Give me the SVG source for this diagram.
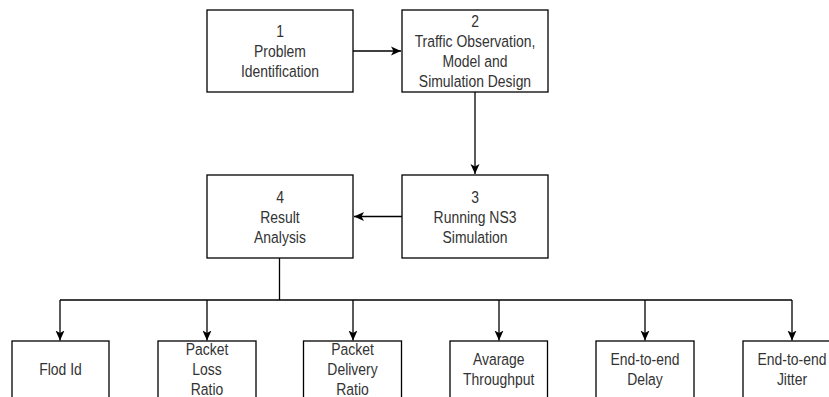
<svg xmlns="http://www.w3.org/2000/svg" width="829" height="397" viewBox="0 0 829 397">
<style>
.box{fill:#fff;stroke:#000;stroke-width:1.3}
.t{font-family:"Liberation Sans",Arial,sans-serif;font-size:17px;fill:#333;text-anchor:middle}
.c{fill:none;stroke:#000;stroke-width:1.3}
</style>
<defs>
<marker id="ah" viewBox="0 0 10 10" refX="10" refY="5" markerWidth="10" markerHeight="10" markerUnits="userSpaceOnUse" orient="auto">
<path d="M0,0.5 L10,5 L0,9.5 L2.5,5 Z" fill="#000"/>
</marker>
</defs>
<rect width="829" height="397" fill="#fff"/>
<g id="connectors">
<path class="c" d="M353,51 H401" marker-end="url(#ah)"/>
<path class="c" d="M475,92 V174" marker-end="url(#ah)"/>
<path class="c" d="M402,216.5 H354" marker-end="url(#ah)"/>
<path class="c" d="M279.5,258 V300 M60,300 H792"/>
<path class="c" d="M60,300 V340.5" marker-end="url(#ah)"/>
<path class="c" d="M207,300 V340.5" marker-end="url(#ah)"/>
<path class="c" d="M353,300 V340.5" marker-end="url(#ah)"/>
<path class="c" d="M499,300 V340.5" marker-end="url(#ah)"/>
<path class="c" d="M645,300 V340.5" marker-end="url(#ah)"/>
<path class="c" d="M792,300 V340.5" marker-end="url(#ah)"/>
</g>
<g id="n1">
<rect class="box" x="207" y="10" width="146" height="82"/>
<text class="t" transform="translate(280 0) scale(0.82 1)"><tspan x="0" y="37">1</tspan><tspan x="0" y="57">Problem</tspan><tspan x="0" y="77">Identification</tspan></text>
</g>
<g id="n2">
<rect class="box" x="402" y="10" width="146" height="82"/>
<text class="t" transform="translate(475 0) scale(0.82 1)"><tspan x="0" y="27">2</tspan><tspan x="0" y="47">Traffic Observation,</tspan><tspan x="0" y="67">Model and</tspan><tspan x="0" y="87">Simulation Design</tspan></text>
</g>
<g id="n3">
<rect class="box" x="402" y="175" width="146" height="83"/>
<text class="t" transform="translate(475 0) scale(0.82 1)"><tspan x="0" y="203">3</tspan><tspan x="0" y="223">Running NS3</tspan><tspan x="0" y="243">Simulation</tspan></text>
</g>
<g id="n4">
<rect class="box" x="207" y="175" width="146" height="83"/>
<text class="t" transform="translate(280 0) scale(0.82 1)"><tspan x="0" y="203">4</tspan><tspan x="0" y="223">Result</tspan><tspan x="0" y="243">Analysis</tspan></text>
</g>
<g id="b1">
<rect class="box" x="12" y="341" width="97" height="58"/>
<text class="t" transform="translate(60.5 0) scale(0.82 1)"><tspan x="0" y="375">Flod Id</tspan></text>
</g>
<g id="b2">
<rect class="box" x="158" y="341" width="98" height="58"/>
<text class="t" transform="translate(207 0) scale(0.82 1)"><tspan x="0" y="355">Packet</tspan><tspan x="0" y="375">Loss</tspan><tspan x="0" y="395">Ratio</tspan></text>
</g>
<g id="b3">
<rect class="box" x="303.5" y="341" width="98" height="58"/>
<text class="t" transform="translate(352.5 0) scale(0.82 1)"><tspan x="0" y="355">Packet</tspan><tspan x="0" y="375">Delivery</tspan><tspan x="0" y="395">Ratio</tspan></text>
</g>
<g id="b4">
<rect class="box" x="450" y="341" width="97.5" height="58"/>
<text class="t" transform="translate(498.7 0) scale(0.82 1)"><tspan x="0" y="365">Avarage</tspan><tspan x="0" y="385">Throughput</tspan></text>
</g>
<g id="b5">
<rect class="box" x="596" y="341" width="98" height="58"/>
<text class="t" transform="translate(645 0) scale(0.82 1)"><tspan x="0" y="365">End-to-end</tspan><tspan x="0" y="385">Delay</tspan></text>
</g>
<g id="b6">
<rect class="box" x="743" y="341" width="98" height="58"/>
<text class="t" transform="translate(792 0) scale(0.82 1)"><tspan x="0" y="365">End-to-end</tspan><tspan x="0" y="385">Jitter</tspan></text>
</g>
</svg>
